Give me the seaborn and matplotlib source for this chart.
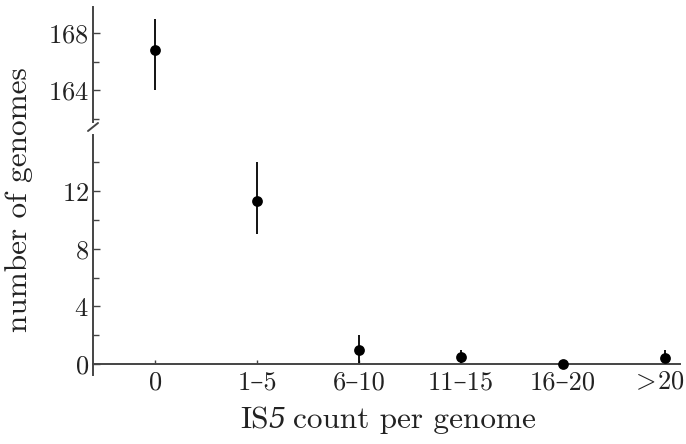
import numpy as np
import matplotlib
matplotlib.use("Agg")
import matplotlib.pyplot as plt
import matplotlib.transforms as mtransforms
import seaborn as sns
from matplotlib.ticker import MultipleLocator
from matplotlib.lines import Line2D

categories = ["0", "1–5", "6–10", "11–15", "16–20", r"$\!>\!$20"]
counts = [166.8, 11.3, 1.0, 0.5, 0.0, 0.4]
err_low = [164.0, 9.0, 0.0, 0.0, 0.0, 0.0]
err_high = [169.0, 14.0, 2.0, 1.0, 0.0, 1.0]

sns.set_theme(style="ticks")
plt.rcParams['font.family'] = ['cmr10', 'DejaVu Serif']
plt.rcParams['mathtext.fontset'] = 'cm'
plt.rcParams['axes.unicode_minus'] = False
plt.rcParams['axes.formatter.use_mathtext'] = True

W, H = 686, 444
fig = plt.figure(figsize=(W / 100, H / 100), dpi=100)

def fx(px):
    return px / W

def fy(py):
    return 1 - py / H

left, right = 93, 680
ax_top = fig.add_axes([fx(left), fy(122), fx(right) - fx(left), fy(7) - fy(122)])
ax_bot = fig.add_axes([fx(left), fy(375), fx(right) - fx(left), fy(135) - fy(375)])

pos = np.arange(len(categories))
lc = '#444444'
fs = 19
lfs = 22.5

for ax in (ax_top, ax_bot):
    ax.vlines(pos, err_low, err_high, color='black', lw=1.3, zorder=2)
    sns.scatterplot(x=pos, y=counts, ax=ax, color='black', s=60, edgecolor='black',
                    linewidth=0, zorder=3, clip_on=False)
    ax.set_xlim(-0.61, 5.15)
    for s in ['top', 'right']:
        ax.spines[s].set_visible(False)
    ax.spines['left'].set_color(lc)
    ax.spines['left'].set_linewidth(1.4)
    ax.tick_params(axis='y', direction='in', length=5, width=1.0, color=lc,
                   labelsize=fs, pad=3, labelcolor='#222222')
    ax.tick_params(axis='y', which='minor', direction='in', length=4, width=1.0, color=lc)
    ax.yaxis.set_minor_locator(MultipleLocator(2))
    ax.set_facecolor('none')

ax_top.set_ylim(161.8, 169.8)
ax_top.set_yticks([164, 168])
ax_top.spines['bottom'].set_visible(False)
ax_top.set_xticks([])

ax_bot.set_ylim(-0.76, 15.9)
ax_bot.set_yticks([0, 4, 8, 12])
ax_bot.spines['bottom'].set_position(('data', 0))
ax_bot.spines['bottom'].set_color(lc)
ax_bot.spines['bottom'].set_linewidth(1.4)
ax_bot.set_xticks(pos)
ax_bot.set_xticklabels(categories)
ax_bot.tick_params(axis='x', direction='in', length=3, width=1.0, color=lc,
                   labelsize=fs, pad=5, labelcolor='#222222')
# nudge the last tick label left so it stays inside the figure
last = ax_bot.get_xticklabels()[-1]
last.set_transform(last.get_transform() +
                   mtransforms.ScaledTranslation(-5 / 100, 0, fig.dpi_scale_trans))

# axis break mark
fig.add_artist(Line2D([fx(88), fx(98)], [fy(131), fy(123)], color=lc, lw=1.4))

fig.text(fx(19), fy(200), 'number of genomes', rotation=90, ha='center', va='center',
         fontsize=lfs, color='#222222')

# x label with italic "5"
parts = [("IS", dict(family=['cmr10', 'DejaVu Serif'], fontsize=lfs)),
         ("5", dict(family=['DejaVu Serif'], style='italic', fontsize=lfs - 3)),
         ("\u2002count per genome", dict(family=['DejaVu Serif', 'cmr10'], fontsize=lfs)),]
# use cmr10 for the words; the leading space is drawn as a separate gap
parts[2] = ("count per genome", dict(family=['cmr10', 'DejaVu Serif'], fontsize=lfs))
renderer = fig.canvas.get_renderer()
texts = []
widths = []
for s, kw in parts:
    t = fig.text(0, fy(428), s, ha='left', va='baseline', color='#222222', **kw)
    bb = t.get_window_extent(renderer=renderer)
    texts.append(t)
    widths.append(bb.width)
gap = 7
total = sum(widths) + gap
x0 = 388 - total / 2
for i, (t, w) in enumerate(zip(texts, widths)):
    t.set_x(fx(x0))
    x0 += w + (gap if i == 1 else 0)

fig.savefig('out.png', dpi=100)
